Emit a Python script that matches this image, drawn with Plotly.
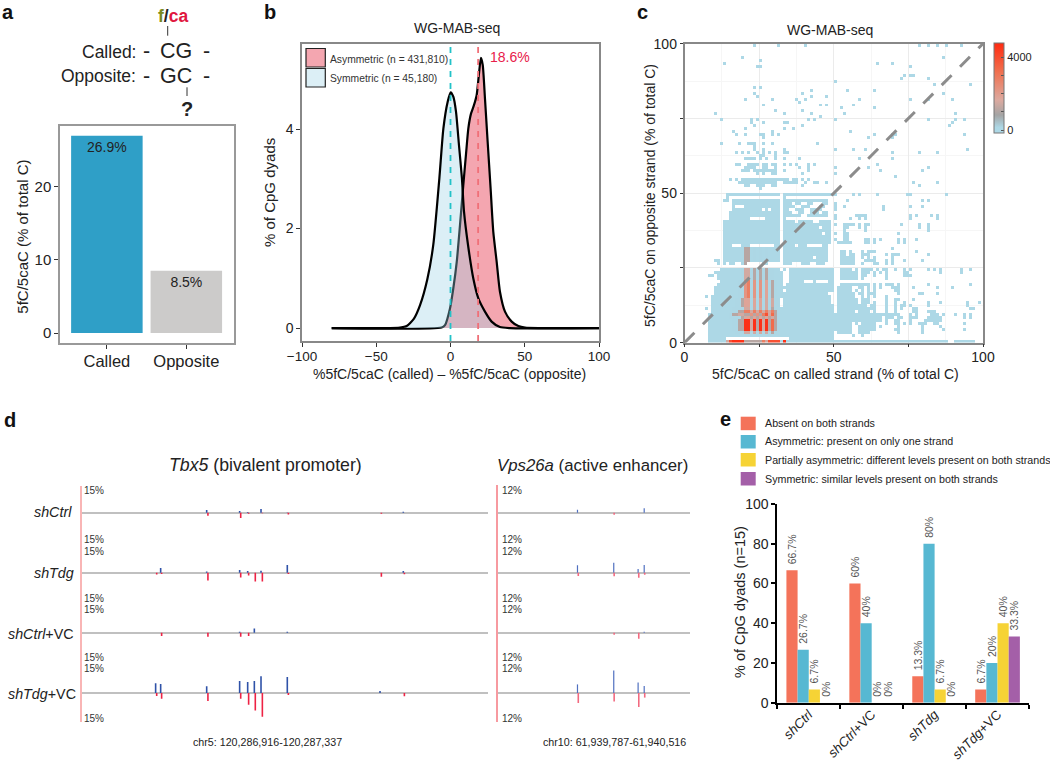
import plotly.graph_objects as go

W, H = 1050, 762
FONT = "Liberation Sans"

# ---------- panel a ----------
A_CATS = ["Called", "Opposite"]
A_VALUES = [26.9, 8.5]
A_LABELS = ["26.9%", "8.5%"]
A_COLORS = ["#2f9fc7", "#cccbca"]

# ---------- panel b ----------
SYM_X = [-80, -45, -34, -29.5, -24.6, -20.5, -15.6, -11.6, -7.5, -4.8, -1.9, 0.1, 1.9, 3.7, 5.7, 7.7, 9.1, 11.8, 15.4,
         18.7, 23.2, 27.7, 33.3, 40, 100]
SYM_Y = [0, 0, 0.01, 0.04, 0.19, 0.46, 0.98, 1.67, 3.01, 4.01, 4.55, 4.74, 4.65, 4.35, 3.68, 3.01, 2.34, 1.67, 0.99,
         0.6, 0.33, 0.13, 0.02, 0, 0]
ASY_X = [-80, -6, -3.7, -0.3, 1.9, 4.2, 6.4, 8.6, 10.4, 12, 13.8, 15.8, 17.6, 19.2, 20.5, 21.7, 23.2, 25, 27, 28.8,
         31.1, 33.3, 36.7, 41.2, 45.7, 50.2, 100]
ASY_Y = [0, 0.01, 0.06, 0.4, 0.8, 1.33, 2.07, 2.87, 3.48, 4.01, 4.31, 4.48, 4.68, 5.12, 5.43, 5.29, 4.62, 3.75, 2.81,
         1.94, 1.33, 0.73, 0.33, 0.13, 0.04, 0.01, 0]
SYM_MEAN = 0
ASY_MEAN = 18.6
B_LEGEND = ["Asymmetric (n = 431,810)", "Symmetric (n = 45,180)"]

# ---------- panel c: occupied 1% bins per row (row = opposite-strand bin) ----------
C_ROWS = {
    99: "23 31 40 78 81 84 87 92", 95: "19 86", 94: "25", 93: "13 64 69", 92: "24-25 75", 89: "73 75-76", 88: "72 81",
    87: "50", 86: "83 95", 85: "23 25", 84: "42 54 63", 83: "23 39 86", 82: "24 42 47", 81: "20 29 37 40 58 75 81 89",
    80: "38", 79: "26 45 47 56", 78: "52 63", 77: "30 39", 76: "10 33 42 53 90", 75: "45",
    74: "12 22 24 41 43 50 81 90 93", 73: "22 26 33-34 89", 72: "23 39 88", 71: "20 33 36", 70: "16 29 55",
    69: "17 20 25 26 29 31 63 69-70 93", 68: "26 61 69", 66: "12 18 21-23 26 29 44", 65: "23", 64: "23 26 33 50 56 60 94",
    63: "17 19 21 24 26 28 30 33-34 69 78 84", 62: "25 26 30", 61: "20-23 25 27 30 33 38 58 69",
    59: "17-18 21-24 26-27 29-30 33 35 37 41 43 64", 58: "20-23 26-27 30 38 41 50 61 81", 57: "19-21 23-30 33 41 65 79",
    56: "24 26 29-30 39 50", 55: "70", 54: "15 17 19-34 36-37 39 41", 53: "18-30 33-37 40 43-44 47 76 84",
    52: "20-21 24-26 29-30 39 78", 51: "25",
    49: "14-31 33-50 56 58 64 74-75 87", 48: "14 33", 47: "13-14 16-31 33-47 54 79 81",
    46: "16-31 33-35 37-38 41-42 46-47 50", 45: "16 20-31 33-36 39-41 45-46 50 53 66 75 79",
    44: "16-25 27 29-31 33-34 37-39 42-45 50 66", 43: "15-31 33-35 38-39 42-44 46-47",
    42: "15-31 33-38 41-47 50 57-60 75 77 82 84", 41: "15-21 27-31 33 50 55 58 60 75 84",
    40: "13-31 33-36 38-42 45-48", 39: "13-31 33-48 50 53-56 58 60-61 72 78 81", 38: "13-31 33-44 46-48 53-54 58 60 78 81",
    37: "13-31 33-48 53 60 81", 36: "13-31 33-45 47-48 50 53-54 71", 35: "13-31 33-48 53-54",
    34: "13-31 33-48 50 53-54 60-61 63 65 71 73 77", 33: "13-31 33-48 51-55 60-61 63 71 73",
    32: "13-15 19-21 30-31 33-36 38-40 46-47", 31: "13-31 33-47 69", 30: "13-31 33-47 52-53 55 59 61-63 77",
    29: "13-31 33-47 52-53 55-56 59-61 67 69-71 81", 28: "13-31 33-42 44-47 52-56 59 61 63 69",
    27: "10-11 13-31 33-47 52-56 60-63 67 69 73 79", 26: "11 13 15-16 19-20 26-27 33-35 39-41 44-46 52-56 59 63-64 67 69",
    24: "12-31 33 35-49 52-55 57 59-62 64 66-67 70 73 75 81 83 85 92 95",
    23: "10-32 35-49 52-57 59-61 63 65 67 73-74 85 92", 22: "8-9 11-32 35-49 52-57 59-60 63 67 73-75",
    21: "11-32 35-49 52-57 59 67", 20: "12-32 35-39 43 48-49", 19: "11-32 34-49 52-61 63 65 67-69 71 81 95",
    18: "10-49 51-55 58-59 61 63 65 69-71 76 84 89", 17: "10-32 34-49 51-55 57 59 61 63 70-71",
    16: "10-47 51-56 58-59 61-63 71 78-79 84", 15: "7 9-48 51-56 59 61 63 67", 14: "9-31 33-48 51-57 59-61 67 70-71 76",
    13: "9-31 33-48 51-57 59-61 63 67 70 73 81 85 94 98", 12: "9-31 33-49 51-60 62-63 67 70 72-73 75 81 94",
    11: "7 9-49 51-63 67 70 72 76-77 95-96", 10: "9-49 51-56 58-61 63 67 70 76-77 81-83",
    9: "8-71 75 77 82-84 86 90 93 95", 8: "8-65 67-69 71-72 75-77 81-85 93 95", 7: "8-65 67 70-71 75 80-85",
    6: "8-55 57 59-63 67 70-71 73 75 78-80 83-84 93", 5: "8-55 58-63 65 71 79 85", 4: "8-55 58-63 70-71 79 86 93",
    3: "8-49 51-55 58-61 71 79", 2: "8-49 56 59", 1: "8-13 35-49", 0: "8-74 75-82 83-87 90-96",
}
# count levels of the hot cells, one digit per called-strand bin, first bin = C_HOT_START
C_HOT_START = 14
C_HOT_LEVELS = [20, 150, 1100, 1500, 1800, 2200, 2800, 3300, 3900, 4600]
C_HOT_ROWS = {
    0: "38999922222263888819", 3: "00011133131313121000", 4: "00112299392939272100", 5: "00112299392939272100",
    6: "00112299392939272100", 7: "00112299392939272100", 8: "01111234242424232100", 9: "01223322525268372100",
    10: "00112266363636362100", 11: "00111133131313121000", 12: "00011244141413131100", 13: "00011244141413131100",
    14: "00011244141413131100", 15: "00001156151514121000", 16: "00001156151514121000", 17: "00001156151514121000",
    18: "00001156151514121000", 19: "00001156151514121000", 20: "00001156151514121000", 21: "00000133121212110000",
    22: "00000133121212110000", 23: "00000133121212110000", 24: "00000133121212110000", 26: "00000022010101000000",
    27: "00000022010101000000", 28: "00000022010101000000", 29: "00000022010101000000", 30: "00000022010101000000",
    31: "00000022010101000000",
}
C_BASE_COUNT = 20

# ---------- panel d ----------
TRACKS = ["shCtrl", "shTdg", "shCtrl+VC", "shTdg+VC"]
TBX5_BLUE_POS = [77.2, 82.4, 130, 164.1, 172.4, 179.3, 186.2, 213.4, 309.3, 333.4]
TBX5_RED_POS = [78.3, 83.4, 131.3, 165.2, 173.4, 180.3, 187.6, 214.5, 310.7, 334.5]
TBX5_BLUE = [[0, 0, 1.7, 1.0, 0.4, 0, 2.3, 0.2, 0, 0.6],
             [0, 3, 0.8, 1.7, 1, 0, 1.3, 4.9, 0, 1],
             [0, 0, 0, 0.6, 0, 2.7, 0, 0.6, 0, 0],
             [6.1, 5.7, 4.2, 7.6, 7, 7.6, 10.6, 10.1, 1.3, 0]]
TBX5_RED = [[0, 0, 1.9, 3.4, 0.6, 0, 0.4, 1.2, 0.6, 0],
            [1.2, 0.8, 4.9, 3, 1.7, 5.5, 5.5, 0.8, 2.5, 1],
            [0, 2.1, 2.5, 2.5, 2.1, 0, 0, 0, 0, 0],
            [1.9, 3.6, 5.1, 3.6, 7.4, 11, 15, 1.2, 0, 2.1]]
VPS_BLUE_POS = [304, 441, 533, 556]
VPS_RED_POS = [307, 442.5, 535.5, 558]
VPS_BLUE = [[1.5, 0, 0, 2.2], [3.7, 5, 1.8, 3.8], [0, 0, 0, 0.5], [4.3, 11.3, 5.3, 3.5]]
VPS_RED = [[0, 1, 0, 0], [1.7, 1.8, 2.5, 1], [0, 1, 3, 0], [5, 4.2, 7, 2.3]]
TBX5_SPAN = 421
VPS_SPAN = 729

# ---------- panel e ----------
E_CATS = ["<i>shCtrl</i>", "<i>shCtrl</i>+VC", "<i>shTdg</i>", "<i>shTdg</i>+VC"]
E_SERIES = ["Absent on both strands", "Asymmetric: present on only one strand",
            "Partially asymmetric: different levels present on both strands",
            "Symmetric: similar levels present on both strands"]
E_VALUES = [[66.7, 60, 13.3, 6.7], [26.7, 40, 80, 20], [6.7, 0, 6.7, 40], [0, 0, 0, 33.3]]
E_COLORS = ["#f4735a", "#57b8d2", "#f6d335", "#a45fa8"]


def X(p):
    return p / W


def Y(p):
    return 1 - p / H


def dom_x(a, b):
    return [a / W, b / W]


def dom_y(top, bottom):
    return [1 - bottom / H, 1 - top / H]


def parse_row(s):
    out = []
    for part in s.split():
        if "-" in part:
            a, b = part.split("-")
            out.extend(range(int(a), int(b) + 1))
        else:
            out.append(int(part))
    return out


fig = go.Figure()
ann = []
shp = []


def text(x, y, t, size, color="#222", anchor="left", angle=0, bold=False):
    ann.append(dict(x=X(x), y=Y(y), xref="paper", yref="paper", text=f"<b>{t}</b>" if bold else t, showarrow=False,
                    xanchor=anchor, yanchor="middle", textangle=angle, font=dict(size=size, color=color, family=FONT)))


def seg(x0, y0, x1, y1, color, width=1.0):
    shp.append(dict(type="line", xref="paper", yref="paper", x0=X(x0), y0=Y(y0), x1=X(x1), y1=Y(y1),
                    line=dict(color=color, width=width)))


def box(x0, y0, x1, y1, fill, line=None, lw=1.0):
    shp.append(dict(type="rect", xref="paper", yref="paper", x0=X(x0), y0=Y(y0), x1=X(x1), y1=Y(y1), fillcolor=fill,
                    line=dict(color=line or fill, width=lw if line else 0)))


layout = {}

# panel a
fig.add_trace(go.Bar(x=A_CATS, y=A_VALUES, width=0.9, marker=dict(color=A_COLORS, line=dict(width=0)), text=A_LABELS,
                     textposition="inside", insidetextanchor="end", textangle=0, constraintext="none",
                     textfont=dict(size=14, color="#222", family=FONT), xaxis="x", yaxis="y", showlegend=False))
layout["xaxis"] = dict(domain=dom_x(60, 234), range=[-0.59, 1.6], type="category", anchor="y", showline=True, mirror=True,
                       linecolor="#999", linewidth=1.5, ticks="outside", ticklen=4, tickcolor="#333", showgrid=False,
                       tickfont=dict(size=16.5, color="#222", family=FONT), ticklabelstandoff=-2)
layout["yaxis"] = dict(domain=dom_y(125.5, 343), range=[-1.35, 28.3], anchor="x", showline=True, mirror=True,
                       linecolor="#999", linewidth=1.5, ticks="outside", ticklen=4, tickcolor="#333", showgrid=False,
                       zeroline=False, tickvals=[0, 10, 20], tickfont=dict(size=15, color="#222", family=FONT))

# panel b
fig.add_trace(go.Scatter(x=ASY_X, y=ASY_Y, mode="lines", line=dict(color="black", width=2.2, shape="spline", smoothing=0.6),
                         fill="tozeroy", fillcolor="#f4a6b0", xaxis="x2", yaxis="y2", showlegend=False, name=B_LEGEND[0]))
fig.add_trace(go.Scatter(x=SYM_X, y=SYM_Y, mode="lines", line=dict(color="black", width=2.2, shape="spline", smoothing=0.6),
                         fill="tozeroy", fillcolor="rgba(155,209,229,0.35)", xaxis="x2", yaxis="y2", showlegend=False,
                         name=B_LEGEND[1]))
fig.add_trace(go.Scatter(x=[SYM_MEAN, SYM_MEAN], y=[-0.26, 5.71], mode="lines", line=dict(color="#22c2c8", width=1.8, dash="6px,6px"),
                         xaxis="x2", yaxis="y2", showlegend=False))
fig.add_trace(go.Scatter(x=[ASY_MEAN, ASY_MEAN], y=[-0.26, 5.71], mode="lines", line=dict(color="#f07078", width=1.8, dash="6px,6px"),
                         xaxis="x2", yaxis="y2", showlegend=False))
layout["xaxis2"] = dict(domain=dom_x(302, 599), range=[-100, 100], anchor="y2", showline=True, mirror=True, linecolor="#888",
                        linewidth=1.5, ticks="outside", ticklen=4, tickcolor="#333", showgrid=False, zeroline=False,
                        tickvals=[-100, -50, 0, 50, 100], tickfont=dict(size=13.5, color="#222", family=FONT), ticklabelstandoff=-2)
layout["yaxis2"] = dict(domain=dom_y(44, 341), range=[-0.26, 5.71], anchor="x2", showline=True, mirror=True, linecolor="#888",
                        linewidth=1.5, ticks="outside", ticklen=4, tickcolor="#333", showgrid=False, zeroline=False,
                        tickvals=[0, 2, 4], tickfont=dict(size=14, color="#222", family=FONT))

# panel c
z = [[None] * 100 for _ in range(100)]
for row, spec in C_ROWS.items():
    for col in parse_row(spec):
        z[row][col] = C_BASE_COUNT
for row, digits in C_HOT_ROWS.items():
    for k, d in enumerate(digits):
        col = C_HOT_START + k
        if z[row][col] is not None:
            z[row][col] = C_HOT_LEVELS[int(d)]
centers = [i + 0.5 for i in range(100)]
fig.add_trace(go.Heatmap(x=centers, y=centers, z=z, zmin=-160, zmax=4767, hoverongaps=False,
                         colorscale=[[0, "#add8e6"], [0.06, "#add8e6"], [0.2, "#a4a4a4"], [0.365, "#dcaaa0"], [0.68, "#f0704f"], [1, "#ff2a10"]],
                         colorbar=dict(x=994 / W, xanchor="left", xpad=0, y=Y(88), yanchor="middle", ypad=0, lenmode="pixels", len=90,
                                       thickness=10, thicknessmode="pixels", outlinecolor="#777", outlinewidth=1,
                                       tickvals=[0, 1000, 2000, 3000, 4000], ticktext=["0", "", "", "", "4000"], ticks="inside",
                                       ticklen=3, tickcolor="#555", tickfont=dict(size=11, color="#222", family=FONT)),
                         xaxis="x3", yaxis="y3"))
fig.add_trace(go.Scatter(x=[0, 100], y=[0, 100], mode="lines", line=dict(color="#8c8c8c", width=3, dash="14px,12px"),
                         xaxis="x3", yaxis="y3", showlegend=False))
c_axis = dict(range=[0, 100], showline=True, mirror=True, linecolor="#888", linewidth=1.5, ticks="outside", ticklen=3,
              tickcolor="#333", showgrid=True, gridcolor="#ebebeb", gridwidth=1, zeroline=False,
              tickvals=[0, 25, 50, 75, 100], ticktext=["0", "", "50", "", "100"], minor=dict(dtick=12.5, showgrid=True, gridcolor="#f6f6f6", ticks=""),
              tickfont=dict(size=14, color="#222", family=FONT))
layout["xaxis3"] = dict(domain=dom_x(684.5, 983), anchor="y3", ticklabelstandoff=-2, **c_axis)
layout["yaxis3"] = dict(domain=dom_y(43.7, 342.7), anchor="x3", **c_axis)

# panel d
base_y = [512.7, 572.7, 632.7, 693]
ax_n = 4


def track_axes(n, x0, x1, span, yspan, by, halfpx):
    layout[f"xaxis{n}"] = dict(domain=dom_x(x0, x1), range=[0, span], anchor=f"y{n}", visible=False, showgrid=False, zeroline=False)
    layout[f"yaxis{n}"] = dict(domain=dom_y(by - halfpx, by + halfpx), range=[-yspan, yspan], anchor=f"x{n}", showgrid=False,
                               showticklabels=False, ticks="", showline=False, zeroline=True, zerolinecolor="#c0c0c0",
                               zerolinewidth=2.2)


def spikes(pos, vals, sign, color, width, n):
    xs, ys = [], []
    for p, v in zip(pos, vals):
        if v > 0:
            xs += [p, p, None]
            ys += [0, sign * v, None]
    fig.add_trace(go.Scatter(x=xs, y=ys, mode="lines", line=dict(color=color, width=width), xaxis=f"x{n}", yaxis=f"y{n}",
                             showlegend=False, hoverinfo="skip"))


for t in range(4):
    track_axes(ax_n, 81, 488, TBX5_SPAN, 15.5, base_y[t], 24.5)
    spikes(TBX5_BLUE_POS, TBX5_BLUE[t], 1, "#2f52a8", 1.6, ax_n)
    spikes(TBX5_RED_POS, TBX5_RED[t], -1, "#ee2244", 1.6, ax_n)
    ax_n += 1
    track_axes(ax_n, 497, 690, VPS_SPAN, 12.5, base_y[t], 25)
    spikes(VPS_BLUE_POS, VPS_BLUE[t], 1, "#5070c0", 1.2, ax_n)
    spikes(VPS_RED_POS, VPS_RED[t], -1, "#f26a80", 1.6, ax_n)
    ax_n += 1

# panel e
for name, vals, col in zip(E_SERIES, E_VALUES, E_COLORS):
    fig.add_trace(go.Bar(x=E_CATS, y=vals, name=name, marker=dict(color=col, line=dict(width=0)), text=[f"\u00a0{v:g}%" for v in vals],
                         textposition="outside", textangle=-90, constraintext="none", cliponaxis=False,
                         textfont=dict(size=10.5, color="#555", family=FONT), xaxis=f"x{ax_n}", yaxis=f"y{ax_n}", showlegend=False))
layout[f"xaxis{ax_n}"] = dict(domain=dom_x(777.3, 1029), range=[-0.5, 3.5], type="category", anchor=f"y{ax_n}", showline=True,
                              linecolor="black", linewidth=2, ticks="outside", ticklen=4, tickwidth=2, tickcolor="black",
                              tickson="boundaries", tickangle=-45, showgrid=False, ticklabelstandoff=-3,
                              tickfont=dict(size=13.2, color="#222", family=FONT))
layout[f"yaxis{ax_n}"] = dict(domain=dom_y(504, 702.7), range=[0, 100], anchor=f"x{ax_n}", showline=True, linecolor="black",
                              linewidth=2, ticks="outside", ticklen=4, tickwidth=2, tickcolor="black", showgrid=False, zeroline=False,
                              tickvals=[0, 20, 40, 60, 80, 100], tickfont=dict(size=14, color="#222", family=FONT))

# panel letters
for letter, lx, ly in [("a", 0, 11.5), ("b", 262, 11.5), ("c", 635, 11.5), ("d", 2, 420), ("e", 718, 419)]:
    text(lx, ly, letter, 20, "#111", bold=True)

# panel a schematic and labels
text(155.5, 16, '<span style="color:#7a8a20"><b>f</b></span><b>/</b><span style="color:#e0173f"><b>ca</b></span>', 17.5)
seg(167.7, 26, 167.7, 35.7, "#333", 1)
seg(187, 87.3, 187, 96, "#333", 1)
text(138, 51.7, "Called:", 17.5, anchor="right")
text(138, 75.7, "Opposite:", 17.5, anchor="right")
for yy, s in [(51, "CG"), (76.3, "GC")]:
    text(176, yy, s, 21.5, anchor="center")
    text(146, yy, "-", 21.5, anchor="center")
    text(206, yy, "-", 21.5, anchor="center")
text(187, 109, "?", 20, anchor="center", bold=True)
text(21.7, 237, "5fC/5caC (% of total C)", 15, anchor="center", angle=-90)

# panel b labels
text(457, 28, "WG-MAB-seq", 14, anchor="center")
text(488, 57, f"{ASY_MEAN}%", 14, "#e8204a")
box(306, 48.5, 325.3, 67, "#f4a6b0", "#222", 1.2)
box(306, 68.5, 325.3, 87, "#dceff6", "#222", 1.2)
text(328, 59, B_LEGEND[0], 10.3, "#333")
text(328, 78.3, B_LEGEND[1], 10.3, "#333")
text(270, 193, "% of CpG dyads", 15, anchor="center", angle=-90)
text(449.7, 374, "%5fC/5caC (called) – %5fC/5caC (opposite)", 14, anchor="center")

# panel c labels
text(830, 30, "WG-MAB-seq", 14, anchor="center")
text(835, 374, "5fC/5caC on called strand (% of total C)", 14, anchor="center")
text(650, 196, "5fC/5caC on opposite strand (% of total C)", 14, anchor="center", angle=-90)

# panel d labels
seg(81, 486, 81, 722, "#f9b5b5", 2)
seg(497, 485, 497, 722, "#f79aa0", 2)
text(265.5, 465, "<i>Tbx5</i> (bivalent promoter)", 17.7, anchor="center")
text(592.5, 465, "<i>Vps26a</i> (active enhancer)", 16.8, anchor="center")
for lab, lx, ly in [("<i>shCtrl</i>", 32, 512), ("<i>shTdg</i>", 32, 573), ("<i>shCtrl</i>+VC", 6, 634), ("<i>shTdg</i>+VC", 6, 694)]:
    text(lx, ly, lab, 14.3)
for ly in [490.7, 539.7, 551, 598, 609, 657.7, 668.7, 718]:
    text(82, ly, "15%", 10, "#333")
    text(500, ly, "12%", 10, "#333")
text(267.5, 741.7, "chr5: 120,286,916-120,287,337", 10.7, "#222", anchor="center")
text(614.3, 741.7, "chr10: 61,939,787-61,940,516", 10.7, "#222", anchor="center")

# panel e labels
for name, col, top, ty in zip(E_SERIES, E_COLORS, [416.7, 435, 453, 472], [423.3, 440.7, 460, 479]):
    box(740.7, top, 755.7, top + 13.5, col)
    text(763, ty, name, 10.7, "#222")
text(740.7, 602.3, "% of CpG dyads (n=15)", 14.5, anchor="center", angle=-90)

fig.update_layout(width=W, height=H, margin=dict(l=0, r=0, t=0, b=0, autoexpand=False), autosize=False, paper_bgcolor="white", plot_bgcolor="white",
                  barmode="group", bargap=0.29, bargroupgap=0, annotations=ann, shapes=shp, showlegend=False,
                  font=dict(family=FONT), **layout)
fig.write_html("out.html", config={"displayModeBar": False},
               post_script="document.body.style.margin='0';document.body.style.overflow='hidden';")
